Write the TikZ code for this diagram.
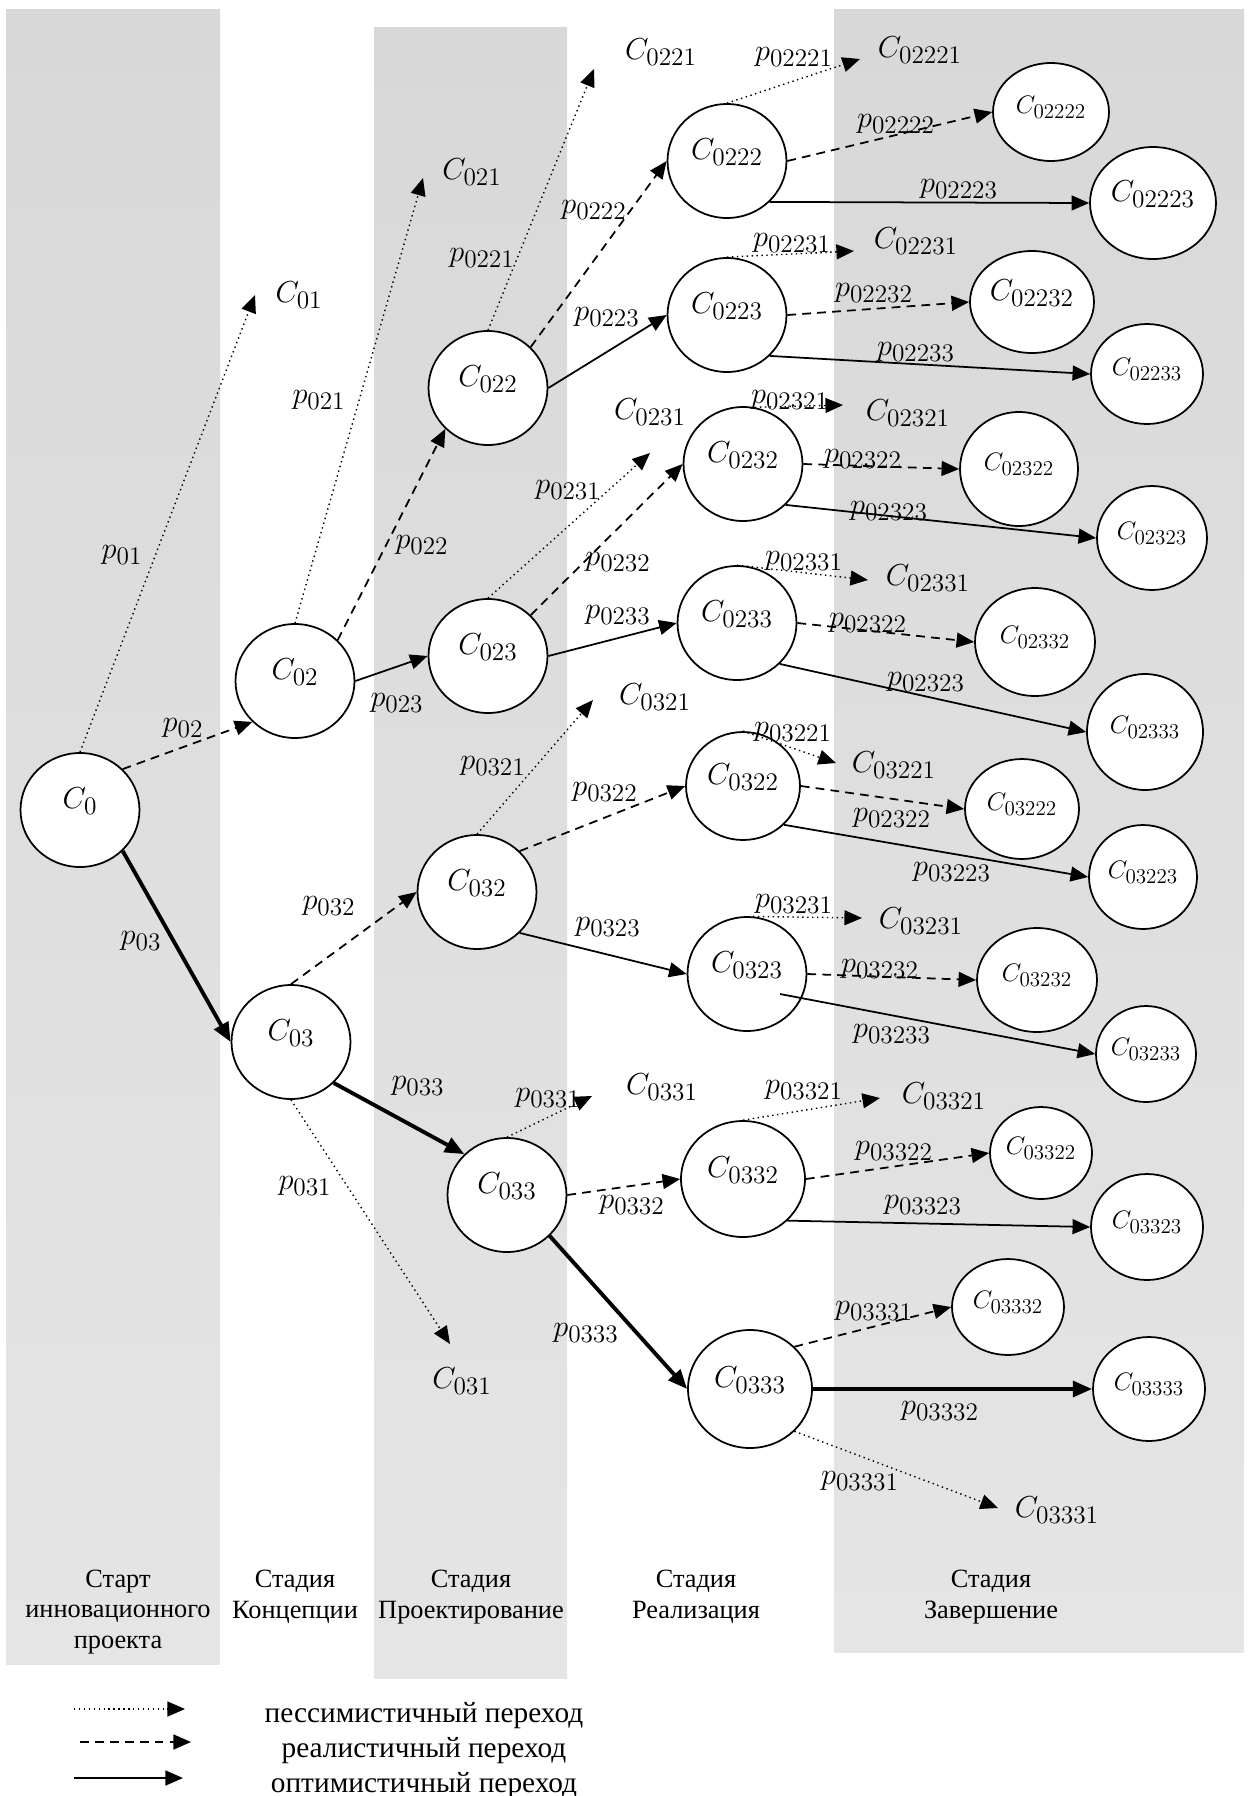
\documentclass[tikz,border=0pt]{standalone}
\usepackage{fontspec}
\setmainfont{Liberation Serif}
\usetikzlibrary{arrows.meta,shapes.geometric}
\DeclareMathSizes{16}{16}{13.8}{10}
\DeclareMathSizes{14}{14}{12.1}{9}

\definecolor{bgtop}{RGB}{216,216,216}
\definecolor{bgbot}{RGB}{229,229,229}

\tikzset{
  stnode/.style={ellipse, draw, fill=white, line width=1pt, inner sep=0pt,
    minimum width=2.38cm, minimum height=2.28cm, text depth=13pt,
    font=\fontsize{16}{19}\selectfont},
  endnode/.style={stnode, font=\fontsize{14}{17}\selectfont, text depth=8pt},
  term/.style={font=\fontsize{16}{19}\selectfont, inner sep=1pt},
  prob/.style={font=\fontsize{16}{19}\selectfont, inner sep=1pt},
  pess/.style={dotted, line width=0.8pt, -{Triangle[length=10pt,width=8.5pt]}},
  real/.style={dash pattern=on 5pt off 3.5pt, line width=1pt, -{Triangle[length=10pt,width=8.5pt]}},
  opt/.style={line width=1pt, -{Triangle[length=10pt,width=8.5pt]}},
  optbest/.style={line width=2.2pt, -{Triangle[length=11pt,width=9pt]}},
  stagetext/.style={font=\fontsize{15}{17.5}\selectfont, align=center},
  legtext/.style={font=\fontsize{16.7}{19}\selectfont},
}

\begin{document}
\begin{tikzpicture}[x=0.02cm, y=-0.02cm]
\useasboundingbox (0,0) rectangle (1250,1796);

% Stage columns
\shade[top color=bgtop, bottom color=bgbot] (6,9) rectangle (220,1664);
\shade[top color=bgtop, bottom color=bgbot] (374,27) rectangle (567,1678);
\shade[top color=bgtop, bottom color=bgbot] (834,9) rectangle (1244,1652);

% States
\node[stnode] (c0) at (80,810) {$C_{0}$};
\node[stnode] (c02) at (295,681) {$C_{02}$};
\node[stnode] (c03) at (291,1042) {$C_{03}$};
\node[stnode] (c022) at (488,388) {$C_{022}$};
\node[stnode] (c023) at (488,656) {$C_{023}$};
\node[stnode] (c032) at (477,892) {$C_{032}$};
\node[stnode] (c033) at (507,1195) {$C_{033}$};
\node[stnode] (c0222) at (727,161) {$C_{0222}$};
\node[stnode] (c0223) at (727,315) {$C_{0223}$};
\node[stnode] (c0232) at (743,464) {$C_{0232}$};
\node[stnode] (c0233) at (737,623) {$C_{0233}$};
\node[stnode, minimum width=2.28cm, minimum height=2.16cm] (c0322) at (743,786) {$C_{0322}$};
\node[stnode] (c0323) at (747,974) {$C_{0323}$};
\node[stnode, minimum width=2.48cm, minimum height=2.32cm] (c0332) at (743,1179) {$C_{0332}$};
\node[stnode, minimum width=2.48cm, minimum height=2.36cm] (c0333) at (750,1389) {$C_{0333}$};

% Final states
\node[endnode, minimum width=2.32cm, minimum height=1.96cm] (c02222) at (1051,112) {$C_{02222}$};
\node[stnode, minimum width=2.52cm, minimum height=2.24cm] (c02223) at (1153,203) {$C_{02223}$};
\node[stnode, minimum width=2.48cm, minimum height=2.04cm] (c02232) at (1032,302) {$C_{02232}$};
\node[endnode, minimum width=2.24cm, minimum height=2.00cm] (c02233) at (1147,374) {$C_{02233}$};
\node[endnode, minimum width=2.36cm, minimum height=2.28cm] (c02322) at (1019,469) {$C_{02322}$};
\node[endnode, minimum width=2.20cm, minimum height=2.08cm] (c02323) at (1152,538) {$C_{02323}$};
\node[endnode, minimum width=2.40cm, minimum height=2.16cm] (c02332) at (1035,642) {$C_{02332}$};
\node[endnode, minimum width=2.32cm, minimum height=2.32cm] (c02333) at (1145,732) {$C_{02333}$};
\node[endnode, minimum width=2.28cm, minimum height=2.00cm] (c03222) at (1022,809) {$C_{03222}$};
\node[endnode, minimum width=2.16cm, minimum height=2.08cm] (c03223) at (1143,877) {$C_{03223}$};
\node[endnode, minimum width=2.40cm, minimum height=2.08cm] (c03232) at (1037,980) {$C_{03232}$};
\node[endnode, minimum width=2.00cm, minimum height=1.92cm] (c03233) at (1146,1054) {$C_{03233}$};
\node[endnode, minimum width=2.04cm, minimum height=1.84cm] (c03322) at (1041,1153) {$C_{03322}$};
\node[endnode, minimum width=2.24cm, minimum height=2.12cm] (c03323) at (1147,1227) {$C_{03323}$};
\node[endnode, minimum width=2.24cm, minimum height=1.92cm] (c03332) at (1008,1307) {$C_{03332}$};
\node[endnode, minimum width=2.24cm, minimum height=2.08cm] (c03333) at (1149,1389) {$C_{03333}$};

% Outcomes without a state
\coordinate (t01) at (255,295);
\coordinate (t021) at (423,178);
\coordinate (t0221) at (594,69);
\coordinate (t02221) at (860,59);
\coordinate (t02231) at (854,251);
\coordinate (t0231) at (650,453);
\coordinate (t02321) at (843,405);
\coordinate (t02331) at (868,580);
\coordinate (t0321) at (593,700);
\coordinate (t03221) at (836,763);
\coordinate (t03231) at (862,918);
\coordinate (t0331) at (592,1096);
\coordinate (t03321) at (880,1098);
\coordinate (t031) at (450,1344);
\coordinate (t03331) at (998,1508);

\node[term] (c01) at (299,295) {$C_{01}$};
\node[term] (c021) at (472,172) {$C_{021}$};
\node[term] (c0221) at (661,52) {$C_{0221}$};
\node[term] (c02221) at (920,50) {$C_{02221}$};
\node[term] (c02231) at (916,241) {$C_{02231}$};
\node[term] (c0231) at (650,412) {$C_{0231}$};
\node[term] (c02321) at (908,413) {$C_{02321}$};
\node[term] (c02331) at (928,578) {$C_{02331}$};
\node[term] (c0321) at (655,697) {$C_{0321}$};
\node[term] (c03221) at (894,765) {$C_{03221}$};
\node[term] (c03231) at (921,921) {$C_{03231}$};
\node[term] (c0331) at (662,1087) {$C_{0331}$};
\node[term] (c03321) at (944,1096) {$C_{03321}$};
\node[term] (c031) at (462,1381) {$C_{031}$};
\node[term] (c03331) at (1057,1510) {$C_{03331}$};

% Transitions
\draw[pess] (c0.north) -- (t01);
\draw[real] (c0.north east) -- (c02.south west);
\draw[optbest] (c0.south east) -- (c03.west);

\draw[pess] (c02.north) -- (t021);
\draw[real] (c02.north east) -- (c022.south west);
\draw[opt] (c02.east) -- (c023.west);

\draw[real] (c03.north) -- (c032.west);
\draw[optbest] (c03.south east) -- (c033.north west);
\draw[pess] (c03.south) -- (t031);

\draw[pess] (c022.north) -- (t0221);
\draw[real] (c022.north east) -- (c0222.west);
\draw[opt] (c022.east) -- (c0223.west);

\draw[pess] (c023.north) -- (t0231);
\draw[real] (c023.north east) -- (c0232.west);
\draw[opt] (c023.east) -- (c0233.west);

\draw[pess] (c032.north) -- (t0321);
\draw[real] (c032.north east) -- (c0322.west);
\draw[opt] (c032.south east) -- (c0323.west);

\draw[pess] (c033.north) -- (t0331);
\draw[real] (c033.east) -- (c0332.west);
\draw[optbest] (c033.south east) -- (c0333.west);

\draw[pess] (c0222.north) -- (t02221);
\draw[real] (c0222.east) -- (c02222.west);
\draw[opt] (c0222.south east) -- (c02223.west);

\draw[pess] (c0223.north) -- (t02231);
\draw[real] (c0223.east) -- (c02232.west);
\draw[opt] (c0223.south east) -- (c02233.west);

\draw[pess] (c0232.78) -- (t02321);
\draw[real] (c0232.east) -- (c02322.west);
\draw[opt] (c0232.south east) -- (c02323.west);

\draw[pess] (c0233.north) -- (t02331);
\draw[real] (c0233.east) -- (c02332.west);
\draw[opt] (c0233.south east) -- (c02333.west);

\draw[pess] (c0322.north) -- (t03221);
\draw[real] (c0322.east) -- (c03222.west);
\draw[opt] (c0322.south east) -- (c03223.west);

\draw[pess] (c0323.84) -- (t03231);
\draw[real] (c0323.east) -- (c03232.west);
\draw[opt] ([shift={(33,20)}]c0323.center) -- (c03233.west);

\draw[pess] (c0332.north) -- (t03321);
\draw[real] (c0332.east) -- (c03322.west);
\draw[opt] (c0332.south east) -- (c03323.west);

\draw[real] (c0333.north east) -- (c03332.west);
\draw[optbest] (c0333.east) -- (c03333.west);
\draw[pess] (c0333.south east) -- (t03331);

% Probabilities
\node[prob] (p01) at (122,555) {$p_{01}$};
\node[prob] (p02) at (183,728) {$p_{02}$};
\node[prob] (p03) at (141,941) {$p_{03}$};
\node[prob] (p021) at (319,400) {$p_{021}$};
\node[prob] (p022) at (422,545) {$p_{022}$};
\node[prob] (p023) at (397,703) {$p_{023}$};
\node[prob] (p031) at (305,1186) {$p_{031}$};
\node[prob] (p032) at (329,906) {$p_{032}$};
\node[prob] (p033) at (418,1086) {$p_{033}$};
\node[prob] (p0221) at (482,258) {$p_{0221}$};
\node[prob] (p0222) at (594,210) {$p_{0222}$};
\node[prob] (p0223) at (607,317) {$p_{0223}$};
\node[prob] (p0231) at (568,490) {$p_{0231}$};
\node[prob] (p0232) at (618,562) {$p_{0232}$};
\node[prob] (p0233) at (618,615) {$p_{0233}$};
\node[prob] (p0321) at (493,766) {$p_{0321}$};
\node[prob] (p0322) at (605,792) {$p_{0322}$};
\node[prob] (p0323) at (608,927) {$p_{0323}$};
\node[prob] (p0331) at (548,1098) {$p_{0331}$};
\node[prob] (p0332) at (632,1205) {$p_{0332}$};
\node[prob] (p0333) at (586,1333) {$p_{0333}$};
\node[prob] (p02221) at (794,57) {$p_{02221}$};
\node[prob] (p02222) at (896,124) {$p_{02222}$};
\node[prob] (p02223) at (959,189) {$p_{02223}$};
\node[prob] (p02231) at (792,243) {$p_{02231}$};
\node[prob] (p02232) at (874,293) {$p_{02232}$};
\node[prob] (p02233) at (916,352) {$p_{02233}$};
\node[prob] (p02321) at (790,400) {$p_{02321}$};
\node[prob] (p02322) at (863,459) {$p_{02322}$};
\node[prob] (p02323) at (889,511) {$p_{02323}$};
\node[prob] (p02331) at (804,561) {$p_{02331}$};
\node[prob] (p02332) at (868,623) {$p_{02322}$};
\node[prob] (p02333) at (926,682) {$p_{02323}$};
\node[prob] (p03221) at (793,732) {$p_{03221}$};
\node[prob] (p03222) at (892,818) {$p_{02322}$};
\node[prob] (p03223) at (952,872) {$p_{03223}$};
\node[prob] (p03231) at (794,904) {$p_{03231}$};
\node[prob] (p03232) at (880,969) {$p_{03232}$};
\node[prob] (p03233) at (892,1034) {$p_{03233}$};
\node[prob] (p03321) at (804,1090) {$p_{03321}$};
\node[prob] (p03322) at (894,1151) {$p_{03322}$};
\node[prob] (p03323) at (923,1205) {$p_{03323}$};
\node[prob] (p03332) at (874,1311) {$p_{03331}$};
\node[prob] (p03333) at (940,1411) {$p_{03332}$};
\node[prob] (p03331) at (860,1481) {$p_{03331}$};

% Stage names
\node[stagetext] (s1) at (118,1612) {Старт\\инновационного\\проекта};
\node[stagetext] (s2) at (295,1597) {Стадия\\Концепции};
\node[stagetext] (s3) at (471,1597) {Стадия\\Проектирование};
\node[stagetext] (s4) at (696,1597) {Стадия\\Реализация};
\node[stagetext] (s5) at (991,1597) {Стадия\\Завершение};

% Legend
\coordinate (la) at (74,1709);
\coordinate (lb) at (185,1709);
\coordinate (lc) at (80,1742);
\coordinate (ld) at (191,1742);
\coordinate (le) at (74,1778);
\coordinate (lf) at (183,1778);
\draw[pess] (la) -- (lb);
\draw[real] (lc) -- (ld);
\draw[opt] (le) -- (lf);
\node[legtext] (l1) at (424,1716) {пессимистичный переход};
\node[legtext] (l2) at (424,1751) {реалистичный переход};
\node[legtext] (l3) at (424,1786) {оптимистичный переход};

\end{tikzpicture}
\end{document}
